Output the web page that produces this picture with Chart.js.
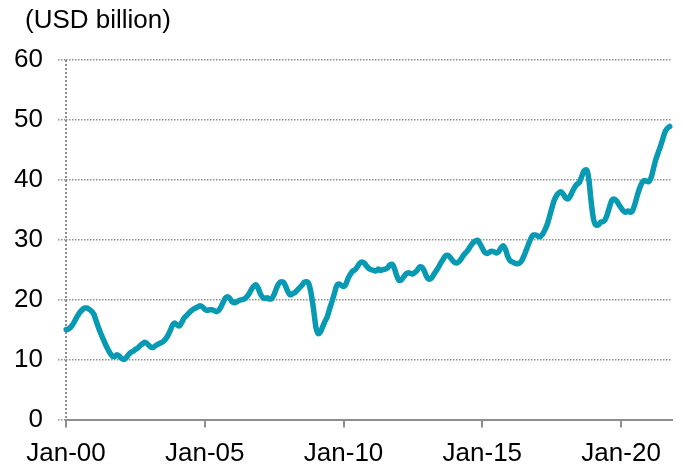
<!DOCTYPE html>
<html>
<head>
<meta charset="utf-8">
<script src="https://cdn.jsdelivr.net/npm/chart.js@4"></script>
<style>
  html, body { margin: 0; padding: 0; background: #ffffff; }
  #wrap { width: 683px; height: 464px; }
</style>
</head>
<body>
<div id="wrap"><canvas id="c" width="683" height="464"></canvas></div>
<script>
// ---- data (monthly, Jan-2000 .. Oct-2021), USD billion ----
const unitLabel = '(USD billion)';
const startYear = 2000;
const tickLabels = ['Jan-00', 'Jan-05', 'Jan-10', 'Jan-15', 'Jan-20'];
const yTicks = [0, 10, 20, 30, 40, 50, 60];
const values = [
  // 2000
  15.0, 15.1, 15.4, 15.9, 16.6, 17.3, 17.9, 18.3, 18.6, 18.6, 18.4, 18.1,
  // 2001
  17.6, 16.5, 15.4, 14.4, 13.5, 12.6, 11.8, 11.1, 10.6, 10.5, 10.8, 10.6,
  // 2002
  10.2, 10.0, 10.3, 10.8, 11.2, 11.4, 11.7, 11.9, 12.3, 12.6, 12.9, 12.7,
  // 2003
  12.3, 12.0, 12.1, 12.4, 12.6, 12.8, 13.0, 13.4, 14.0, 14.8, 15.7, 16.1,
  // 2004
  15.8, 15.6, 16.2, 16.9, 17.3, 17.7, 18.1, 18.4, 18.6, 18.8, 19.0, 18.8,
  // 2005
  18.4, 18.2, 18.3, 18.3, 18.2, 18.0, 18.2, 18.8, 19.6, 20.3, 20.5, 20.1,
  // 2006
  19.6, 19.5, 19.7, 19.9, 20.0, 20.1, 20.4, 20.9, 21.6, 22.2, 22.5, 22.0,
  // 2007
  21.0, 20.4, 20.2, 20.3, 20.1, 20.2, 20.9, 21.9, 22.7, 23.0, 22.9, 22.2,
  // 2008
  21.3, 20.8, 21.0, 21.2, 21.6, 22.0, 22.4, 22.9, 23.0, 22.6, 21.0, 18.5,
  // 2009
  15.5, 14.3, 14.6, 15.5, 16.4, 17.2, 18.5, 19.7, 21.0, 22.3, 22.6, 22.4,
  // 2010
  22.2, 22.6, 23.6, 24.3, 24.8, 25.0, 25.5, 26.1, 26.3, 26.1, 25.6, 25.2,
  // 2011
  25.0, 24.9, 24.8, 25.1, 24.9, 25.0, 25.1, 25.3, 25.8, 25.9, 25.2, 24.0,
  // 2012
  23.2, 23.3, 23.8, 24.3, 24.5, 24.4, 24.3, 24.6, 25.0, 25.5, 25.4, 24.7,
  // 2013
  23.8, 23.4, 23.6, 24.2, 24.8, 25.4, 26.1, 26.7, 27.3, 27.4, 27.1, 26.6,
  // 2014
  26.2, 26.1, 26.4, 26.9, 27.5, 27.9, 28.4, 29.0, 29.5, 29.8, 29.9, 29.3,
  // 2015
  28.6, 27.9, 27.7, 27.9, 28.1, 28.0, 27.8, 28.0, 28.6, 29.0, 28.4, 27.2,
  // 2016
  26.5, 26.3, 26.1, 26.0, 26.1, 26.5, 27.3, 28.3, 29.3, 30.2, 30.8, 30.8,
  // 2017
  30.6, 30.5, 30.9, 31.6, 32.5, 33.8, 35.2, 36.5, 37.3, 37.8, 38.0, 37.6,
  // 2018
  37.0, 36.8, 37.3, 38.1, 38.8, 39.3, 39.6, 40.6, 41.5, 41.7, 40.2, 36.5,
  // 2019
  33.6, 32.5, 32.4, 32.9, 33.0, 33.3, 34.2, 35.5, 36.6, 36.8, 36.5, 35.9,
  // 2020
  35.3, 34.8, 34.6, 34.8, 34.6, 34.9, 36.0, 37.4, 38.6, 39.5, 39.9, 39.8,
  // 2021
  39.7, 40.4, 41.9, 43.4, 44.5, 45.6, 46.8, 48.0, 48.6, 48.9
];

// month category labels (one extra trailing month so the axis runs a bit past the last point)
const monthNames = ['Jan','Feb','Mar','Apr','May','Jun','Jul','Aug','Sep','Oct','Nov','Dec'];
const labels = [];
for (let i = 0; i < values.length + 1; i++) {
  const y = startYear + Math.floor(i / 12);
  labels.push(monthNames[i % 12] + '-' + String(y % 100).padStart(2, '0'));
}

const FONT = "'Liberation Sans', Arial, Helvetica, sans-serif";
const GRID = '#8e8e8e';
const AXIS = '#8e8e8e';

const titlePlugin = {
  id: 'unitTitle',
  afterDraw(chart) {
    const ctx = chart.ctx;
    ctx.save();
    ctx.font = '26px ' + FONT;
    ctx.fillStyle = '#000000';
    ctx.textAlign = 'left';
    ctx.textBaseline = 'alphabetic';
    ctx.fillText(unitLabel, 25, 28);
    ctx.restore();
  }
};

new Chart(document.getElementById('c'), {
  type: 'line',
  data: {
    labels: labels,
    datasets: [{
      data: values,
      borderColor: '#0899b3',
      borderWidth: 5.5,
      pointRadius: 0,
      pointHoverRadius: 0,
      cubicInterpolationMode: 'monotone',
      borderJoinStyle: 'round',
      borderCapStyle: 'round',
      fill: false
    }]
  },
  options: {
    responsive: false,
    animation: false,
    devicePixelRatio: 1,
    layout: { padding: { top: 60, right: 8, left: 0, bottom: 0 } },
    plugins: {
      legend: { display: false },
      tooltip: { enabled: false },
      title: { display: false }
    },
    scales: {
      x: {
        type: 'category',
        offset: false,
        afterFit(scale) { scale.height = 44.5; },
        border: { display: true, color: AXIS, width: 2, dash: [2, 2] },
        grid: {
          drawOnChartArea: true,
          drawTicks: true,
          tickLength: 8,
          color: (c) => (c.tick && c.tick.value === 0) ? GRID : 'rgba(0,0,0,0)',
          lineWidth: (c) => (c.tick && c.tick.value === 0) ? 2 : 0,
          tickColor: (c) => (c.tick && c.tick.value % 60 === 0) ? AXIS : 'rgba(0,0,0,0)',
          tickWidth: 2
        },
        ticks: {
          autoSkip: false,
          maxRotation: 0,
          minRotation: 0,
          padding: 11,
          color: '#000000',
          font: { family: FONT, size: 26 },
          callback: (v, i) => (i % 60 === 0) ? tickLabels[i / 60] : ''
        }
      },
      y: {
        min: 0,
        max: 60,
        afterFit(scale) { scale.width = 66; },
        afterBuildTicks(scale) { scale.ticks = yTicks.map(v => ({ value: v })); },
        border: { display: false, dash: [1.5, 1.5] },
        grid: {
          color: GRID,
          lineWidth: 1.5,
          drawTicks: true,
          tickLength: 8,
          tickColor: GRID,
          tickWidth: 1.5,
          tickBorderDash: [1.5, 1.5]
        },
        ticks: {
          padding: 15,
          color: '#000000',
          font: { family: FONT, size: 26 }
        }
      }
    }
  },
  plugins: [titlePlugin]
});
</script>
</body>
</html>
